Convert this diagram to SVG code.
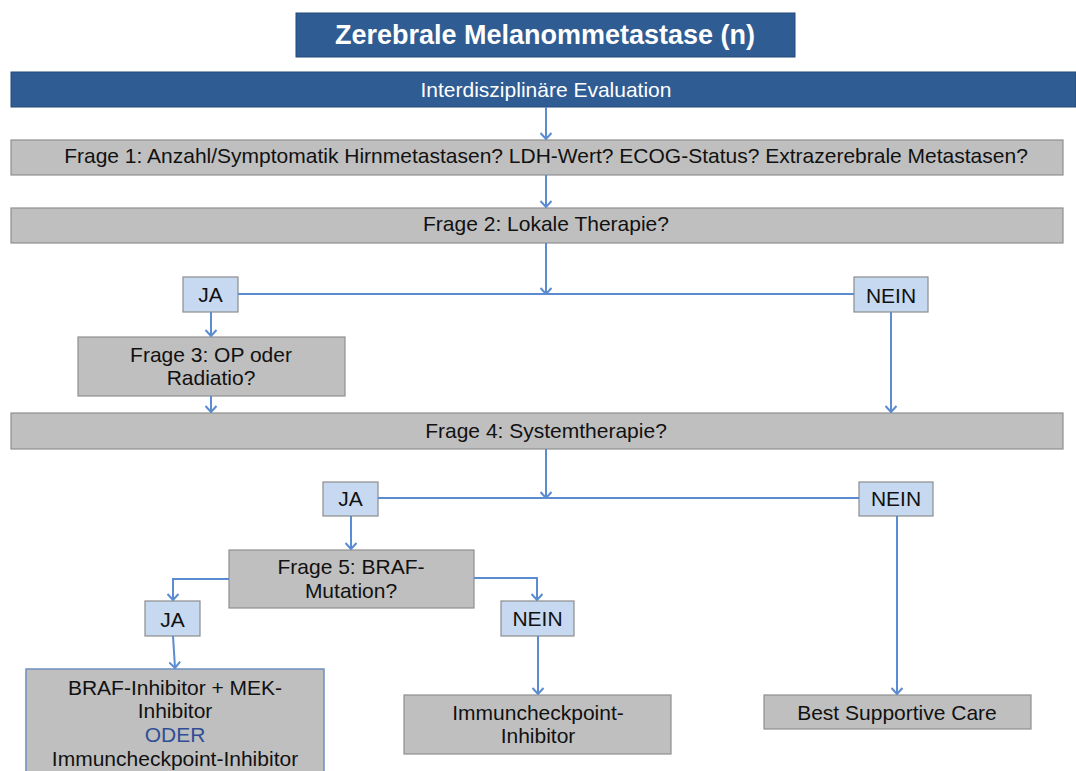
<svg xmlns="http://www.w3.org/2000/svg" width="1076" height="771" viewBox="0 0 1076 771">
<style>
text{font-family:"Liberation Sans",Arial,sans-serif;font-size:21px;fill:#111;text-anchor:middle}
.dark{fill:#2f5c93;stroke:#24487a;stroke-width:1}
.gray{fill:#bfbfbf;stroke:#8f8f8f;stroke-width:1.2}
.lb{fill:#c6d9f1;stroke:#8c8c8c;stroke-width:1.2}
.w{fill:#fff}
.c{fill:none;stroke:#5b8bd0;stroke-width:2}
</style>
<defs>
<marker id="ah" viewBox="0 0 12 12" refX="11" refY="6" markerWidth="12" markerHeight="12" markerUnits="userSpaceOnUse" orient="auto">
<polyline points="5,0.5 11,6 5,11.5" fill="none" stroke="#5b8bd0" stroke-width="2"/>
</marker>
</defs>
<rect width="1076" height="771" fill="#fff"/>
<g id="title"><rect class="dark" x="296" y="13" width="499" height="44"/><text x="545" y="44" class="w" style="font-weight:bold;font-size:27px">Zerebrale Melanommetastase (n)</text></g>
<g id="eval"><rect class="dark" x="11" y="72" width="1065" height="35"/><text x="546" y="97" class="w">Interdisziplinäre Evaluation</text></g>
<g id="frage1"><rect class="gray" x="11" y="140" width="1052" height="35"/><text x="546" y="163">Frage 1: Anzahl/Symptomatik Hirnmetastasen? LDH-Wert? ECOG-Status? Extrazerebrale Metastasen?</text></g>
<g id="frage2"><rect class="gray" x="11" y="208" width="1052" height="35"/><text x="546" y="231">Frage 2: Lokale Therapie?</text></g>
<g id="ja1"><rect class="lb" x="183" y="277" width="55" height="35"/><text x="210.5" y="302">JA</text></g>
<g id="nein1"><rect class="lb" x="854" y="277" width="74" height="35"/><text x="891" y="303">NEIN</text></g>
<g id="frage3"><rect class="gray" x="78" y="337" width="267" height="59"/><text x="211" y="362">Frage 3: OP oder</text><text x="211" y="385">Radiatio?</text></g>
<g id="frage4"><rect class="gray" x="11" y="413" width="1052" height="36"/><text x="546" y="438">Frage 4: Systemtherapie?</text></g>
<g id="ja2"><rect class="lb" x="323" y="482" width="55" height="34"/><text x="350.5" y="506">JA</text></g>
<g id="nein2"><rect class="lb" x="859" y="482" width="74" height="34"/><text x="896" y="506">NEIN</text></g>
<g id="frage5"><rect class="gray" x="229" y="550" width="245" height="58"/><text x="351" y="574">Frage 5: BRAF-</text><text x="351" y="598">Mutation?</text></g>
<g id="ja3"><rect class="lb" x="145" y="601" width="55" height="35"/><text x="172.5" y="627">JA</text></g>
<g id="nein3"><rect class="lb" x="501" y="601" width="73" height="35"/><text x="537.5" y="626">NEIN</text></g>
<g id="braf"><rect x="26" y="669" width="298" height="110" fill="#bfbfbf" stroke="#6f8fbf" stroke-width="1.5"/><text x="175" y="695">BRAF-Inhibitor + MEK-</text><text x="175" y="718">Inhibitor</text><text x="175" y="742" style="fill:#2f4f95">ODER</text><text x="175" y="766">Immuncheckpoint-Inhibitor</text></g>
<g id="immun"><rect class="gray" x="404" y="695" width="267" height="59"/><text x="538" y="720">Immuncheckpoint-</text><text x="538" y="743">Inhibitor</text></g>
<g id="bsc"><rect class="gray" x="764" y="695" width="267" height="34"/><text x="897" y="720">Best Supportive Care</text></g>
<g id="connectors">
<line class="c" x1="546" y1="107" x2="546" y2="139" marker-end="url(#ah)"/>
<line class="c" x1="546" y1="175" x2="546" y2="207" marker-end="url(#ah)"/>
<line class="c" x1="546" y1="243" x2="546" y2="294" marker-end="url(#ah)"/>
<line class="c" x1="238" y1="294" x2="854" y2="294"/>
<line class="c" x1="211" y1="312" x2="211" y2="336" marker-end="url(#ah)"/>
<line class="c" x1="211" y1="396" x2="211" y2="412" marker-end="url(#ah)"/>
<line class="c" x1="891" y1="312" x2="891" y2="412" marker-end="url(#ah)"/>
<line class="c" x1="546" y1="449" x2="546" y2="498" marker-end="url(#ah)"/>
<line class="c" x1="378" y1="498" x2="859" y2="498"/>
<line class="c" x1="351" y1="516" x2="351" y2="549" marker-end="url(#ah)"/>
<line class="c" x1="897" y1="516" x2="897" y2="694" marker-end="url(#ah)"/>
<polyline class="c" points="474,578 537,578 537,600" marker-end="url(#ah)"/>
<polyline class="c" points="229,579 173,579 173,600" marker-end="url(#ah)"/>
<line class="c" x1="173" y1="636" x2="175" y2="668" marker-end="url(#ah)"/>
<line class="c" x1="538" y1="636" x2="538" y2="694" marker-end="url(#ah)"/>
</g>
</svg>
